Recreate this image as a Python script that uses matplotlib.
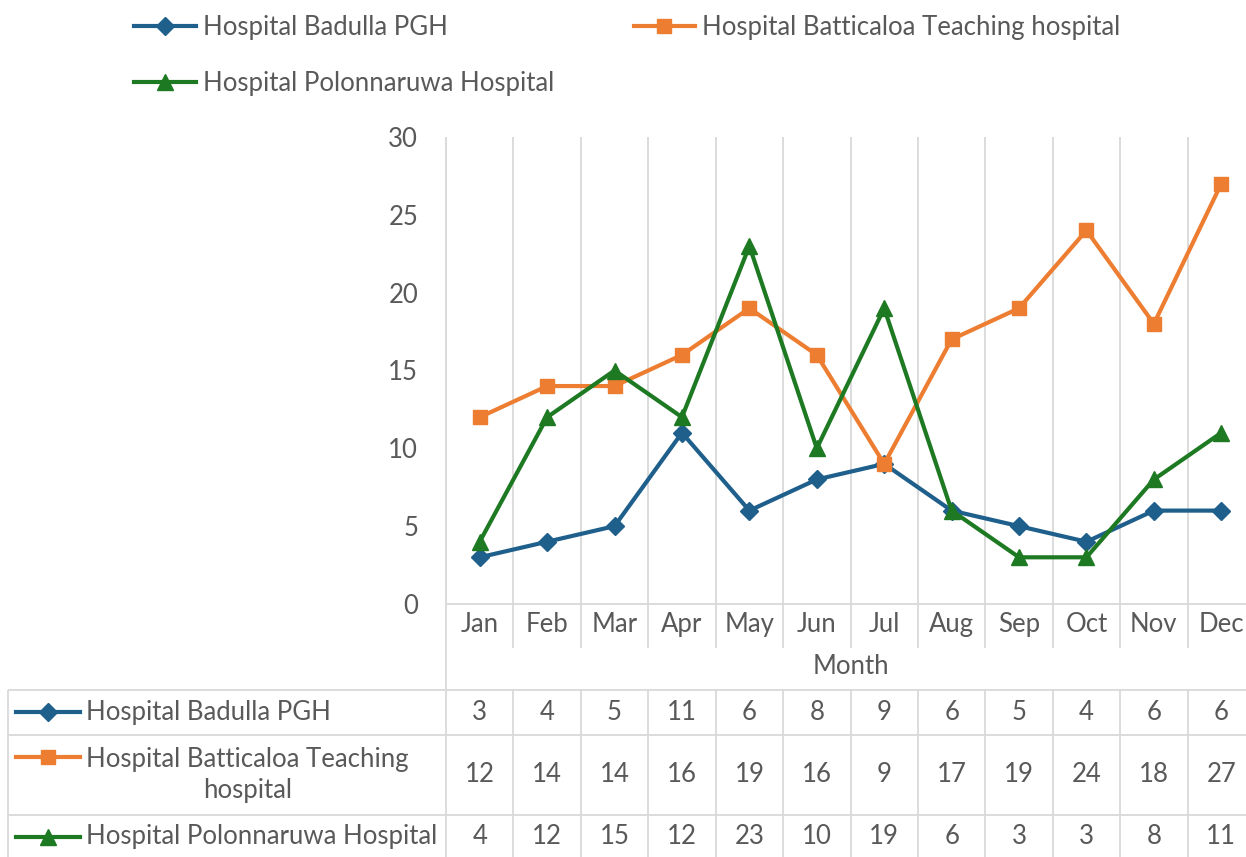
import numpy as np
import matplotlib.pyplot as plt
from matplotlib.lines import Line2D
from matplotlib.transforms import blended_transform_factory

plt.rcParams['font.family'] = ['Lato', 'DejaVu Sans']

months = ['Jan', 'Feb', 'Mar', 'Apr', 'May', 'Jun', 'Jul', 'Aug', 'Sep', 'Oct', 'Nov', 'Dec']
names = ['Hospital Badulla PGH', 'Hospital Batticaloa Teaching hospital',
         'Hospital Polonnaruwa Hospital']
table_names = ['Hospital Badulla PGH', 'Hospital Batticaloa Teaching\nhospital',
               'Hospital Polonnaruwa Hospital']
badulla = [3, 4, 5, 11, 6, 8, 9, 6, 5, 4, 6, 6]
batticaloa = [12, 14, 14, 16, 19, 16, 9, 17, 19, 24, 18, 27]
polonnaruwa = [4, 12, 15, 12, 23, 10, 19, 6, 3, 3, 8, 11]
series = [badulla, batticaloa, polonnaruwa]

colors = ['#1f5f8b', '#ed7d31', '#1e7a22']
markers = ['D', 's', '^']
msizes = [9, 10, 12]
grid_c = '#d9d9d9'
text_c = '#595959'
fs = 18.5

W, H = 1246, 857
fig = plt.figure(figsize=(W / 100, H / 100), dpi=100)

# plot area in pixels
L, R, T, B = 446, 1255, 137, 604
ax = fig.add_axes([L / W, 1 - B / H, (R - L) / W, (B - T) / H])
x = np.arange(len(months))
for vals, c, m, ms in zip(series, colors, markers, msizes):
    ax.plot(x, vals, color=c, lw=3, marker=m, ms=ms, clip_on=False, zorder=3)

ax.set_xlim(-0.5, len(months) - 0.5)
ax.set_ylim(0, 30)
ax.set_yticks(np.arange(0, 31, 5))
ax.set_xticks(x)
ax.set_xticklabels(months)
ax.set_xticks(np.arange(-0.5, len(months), 1), minor=True)
ax.tick_params(axis='both', which='both', length=0, labelsize=fs, colors=text_c)
ax.tick_params(axis='y', pad=20)
ax.tick_params(axis='x', pad=6)
ax.grid(True, axis='x', which='minor', color=grid_c, lw=1.3)
for s in ['top', 'right', 'left']:
    ax.spines[s].set_visible(False)
ax.spines['bottom'].set_color(grid_c)
ax.spines['bottom'].set_linewidth(1.3)

def ay(py):
    return (B - py) / (B - T)

trans = blended_transform_factory(ax.transData, ax.transAxes)
ax.vlines(np.arange(0.5, len(months) - 0.5, 1), ay(648), 0, transform=trans,
          color=grid_c, lw=1.3, clip_on=False)
ax.vlines([-0.5], ay(690), 1, transform=trans, color=grid_c, lw=1.3, clip_on=False)
ax.text((len(months) - 1) / 2, ay(667), 'Month', transform=trans, ha='center',
        va='center', fontsize=fs, color=text_c)

# data table
ppu = (R - L) / len(months)
TL = 8
xleft = -0.5 - (L - TL) / ppu
tab = fig.add_axes([TL / W, 0, (R - TL) / W, (H - 690) / H])
tab.set_xlim(xleft, len(months) - 0.5)
tab.set_ylim(H, 690)
tab.axis('off')

def tx(px):
    return xleft + (px - TL) / ppu

rows = [690, 735, 815, 860]
tab.hlines(rows[:3], xleft, len(months) - 0.5, color=grid_c, lw=1.3, clip_on=False)
tab.vlines(np.append([xleft], np.arange(-0.5, len(months), 1)), 690, H,
           color=grid_c, lw=1.3, clip_on=False)
for i, (vals, c, m, ms, nm) in enumerate(zip(series, colors, markers, msizes, table_names)):
    yc = (rows[i] + rows[i + 1]) / 2
    if i == 2:
        yc = 837
    yh = 757 if '\n' in nm else yc
    tab.add_line(Line2D([tx(16), tx(80)], [yh, yh], color=c, lw=3, clip_on=False))
    tab.plot([tx(48)], [yh], marker=m, ms=ms, color=c, clip_on=False)
    tab.text(tx(86), yc, nm, ha='left', va='center', multialignment='center',
             fontsize=fs, color=text_c, linespacing=1.3)
    for j, v in enumerate(vals):
        tab.text(j, yc, str(v), ha='center', va='center', fontsize=fs, color=text_c)

# legend
handles = [Line2D([], [], color=c, lw=3, marker=m, ms=ms)
           for c, m, ms in zip(colors, markers, msizes)]
order = [0, 2, 1]
fig.legend([handles[k] for k in order], [names[k] for k in order], loc='upper left',
           bbox_to_anchor=(111 / W, 1 + 8 / H), ncol=2, frameon=False, fontsize=fs,
           handlelength=2.4, handletextpad=0.27, columnspacing=3.1, labelspacing=1.2,
           labelcolor=text_c)

fig.savefig('out.png', dpi=100)
